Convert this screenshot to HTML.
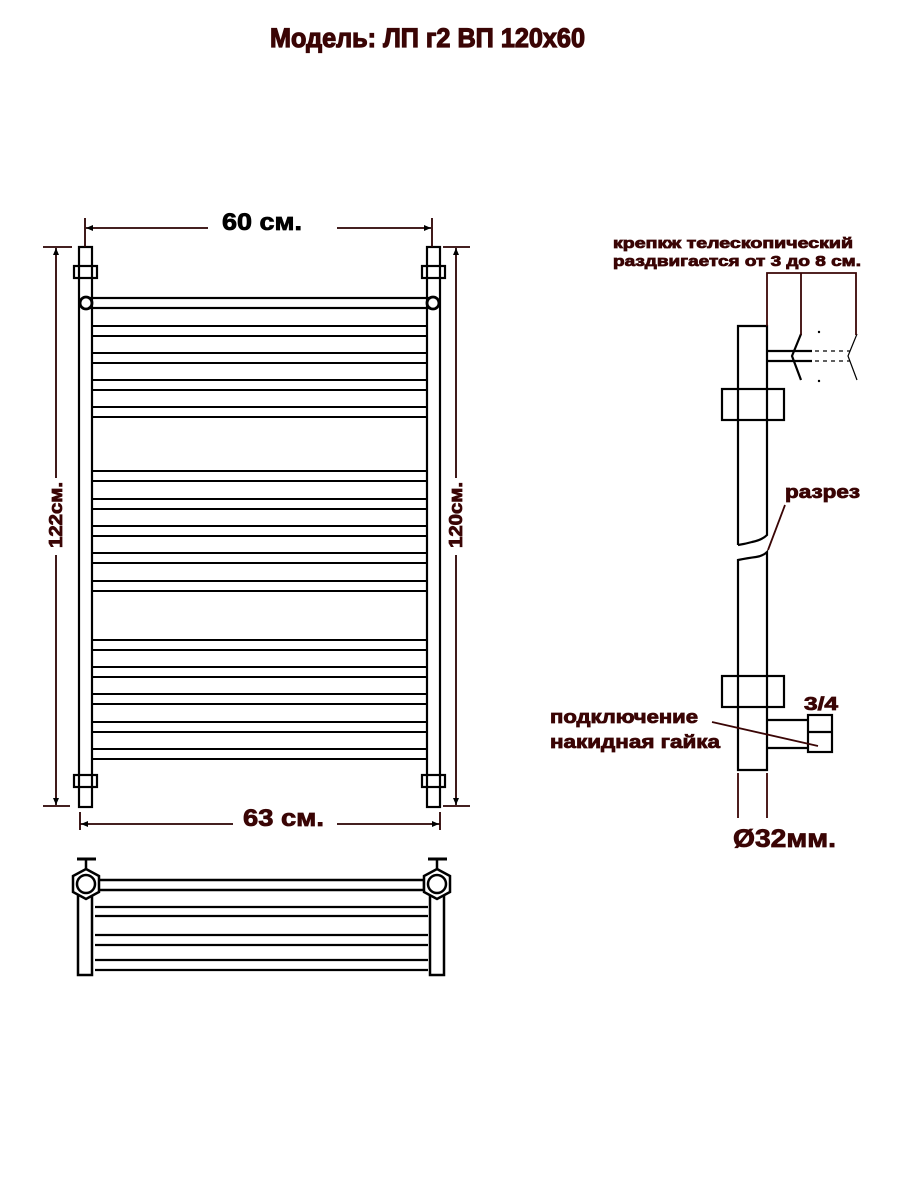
<!DOCTYPE html>
<html><head><meta charset="utf-8"><style>
html,body{margin:0;padding:0;background:#fff;}
svg{display:block;}
.t{font-family:"Liberation Sans",sans-serif;font-weight:bold;fill:#3a0505;stroke:#3a0505;stroke-width:0.8;}
</style></head><body>
<svg width="900" height="1200" viewBox="0 0 900 1200" xmlns="http://www.w3.org/2000/svg">
<rect width="900" height="1200" fill="#fff"/>
<text class="t" x="270" y="47" font-size="27" textLength="315" lengthAdjust="spacingAndGlyphs" style="stroke-width:1.2">Модель: ЛП г2 ВП 120х60</text>

<!-- front view -->
<g fill="none" stroke="#000" stroke-width="2.2">
<rect x="79" y="247" width="13" height="560" fill="#fff"/>
<rect x="427" y="247" width="13" height="560" fill="#fff"/>
<rect x="74" y="266" width="23" height="12"/>
<rect x="422" y="266" width="23" height="12"/>
<rect x="74" y="775" width="23" height="12"/>
<rect x="422" y="775" width="23" height="12"/>
<rect x="86" y="298" width="347" height="10"/>
<circle cx="86" cy="303" r="6" fill="#fff" stroke-width="2.8"/>
<circle cx="433" cy="303" r="6" fill="#fff" stroke-width="2.8"/>
<g stroke-width="2">
<rect x="92" y="326" width="335" height="10"/>
<rect x="92" y="353" width="335" height="10"/>
<rect x="92" y="380" width="335" height="10"/>
<rect x="92" y="407" width="335" height="10"/>
<rect x="92" y="471" width="335" height="10"/>
<rect x="92" y="499" width="335" height="10"/>
<rect x="92" y="526" width="335" height="10"/>
<rect x="92" y="553" width="335" height="10"/>
<rect x="92" y="581" width="335" height="10"/>
<rect x="92" y="640" width="335" height="10"/>
<rect x="92" y="667" width="335" height="10"/>
<rect x="92" y="694" width="335" height="10"/>
<rect x="92" y="722" width="335" height="10"/>
<rect x="92" y="749" width="335" height="10"/>
</g>
</g>

<!-- dimensions -->
<g stroke="#2a0000" stroke-width="1.8" fill="none">
<line x1="85" y1="218" x2="85" y2="247"/>
<line x1="432" y1="218" x2="432" y2="247"/>
<line x1="86" y1="228" x2="208" y2="228"/>
<line x1="337" y1="228" x2="431" y2="228"/>
<line x1="43" y1="247" x2="72" y2="247"/>
<line x1="56" y1="248" x2="56" y2="478"/>
<line x1="56" y1="555" x2="56" y2="805"/>
<line x1="43" y1="806" x2="70" y2="806"/>
<line x1="443" y1="247" x2="470" y2="247"/>
<line x1="456" y1="248" x2="456" y2="478"/>
<line x1="456" y1="555" x2="456" y2="805"/>
<line x1="443" y1="806" x2="470" y2="806"/>
<line x1="80" y1="812" x2="80" y2="830"/>
<line x1="440" y1="812" x2="440" y2="830"/>
<line x1="80" y1="824" x2="233" y2="824"/>
<line x1="337" y1="824" x2="440" y2="824"/>
</g>
<g fill="#000">
<path d="M86 228 l7 -3 v6z"/><path d="M431 228 l-7 -3 v6z"/>
<path d="M56 248 l-3 7 h6z"/><path d="M56 805 l-3 -7 h6z"/>
<path d="M456 248 l-3 7 h6z"/><path d="M456 805 l-3 -7 h6z"/>
<path d="M81 824 l7 -3 v6z"/><path d="M439 824 l-7 -3 v6z"/>
</g>
<text class="t" x="222" y="230" font-size="24" textLength="80" lengthAdjust="spacingAndGlyphs" style="fill:#000;stroke:#000">60 см.</text>
<text class="t" x="243" y="826" font-size="24" textLength="81" lengthAdjust="spacingAndGlyphs">63 см.</text>
<text class="t" font-size="18" textLength="66" lengthAdjust="spacingAndGlyphs" transform="translate(62,548) rotate(-90)">122см.</text>
<text class="t" font-size="18" textLength="66" lengthAdjust="spacingAndGlyphs" transform="translate(462,548) rotate(-90)">120см.</text>

<!-- top view -->
<g fill="none" stroke="#000" stroke-width="2.5">
<rect x="78" y="895" width="14" height="80" fill="#fff"/>
<rect x="430" y="895" width="14" height="80" fill="#fff"/>
<rect x="98" y="880" width="326" height="10"/>
<line x1="95" y1="907" x2="428" y2="907" stroke-width="2.2"/>
<line x1="95" y1="916" x2="428" y2="916" stroke-width="2.2"/>
<line x1="95" y1="935" x2="428" y2="935" stroke-width="2.2"/>
<line x1="95" y1="945" x2="428" y2="945" stroke-width="2.2"/>
<line x1="95" y1="960" x2="428" y2="960" stroke-width="2.2"/>
<line x1="95" y1="970" x2="428" y2="970" stroke-width="2.2"/>
<polygon points="86,869 99,876 99,892 86,899 73,892 73,876" fill="#fff"/>
<polygon points="437,869 450,876 450,892 437,899 424,892 424,876" fill="#fff"/>
<circle cx="86" cy="884" r="9"/>
<circle cx="437" cy="884" r="9"/>
<line x1="86" y1="860" x2="86" y2="869"/>
<line x1="437" y1="860" x2="437" y2="869"/>
<line x1="77" y1="859" x2="96" y2="859" stroke-width="3"/>
<line x1="428" y1="859" x2="447" y2="859" stroke-width="3"/>
</g>

<!-- side view -->
<g fill="none" stroke="#000" stroke-width="2.2">
<path d="M738 545 V326 H767 V535 Q762 540 752 542 Q745 544 738 545"/>
<path d="M738 560 Q748 558 756 557 Q763 556 767 552 V770 H738 Z"/>
<rect x="722" y="389" width="62" height="31" fill="none"/>
<rect x="722" y="676" width="62" height="31"/>
<line x1="767" y1="351" x2="812" y2="351"/>
<line x1="767" y1="361" x2="812" y2="361"/>
<line x1="815" y1="351" x2="850" y2="351" stroke-dasharray="4,4" stroke-width="1.2"/>
<line x1="815" y1="361" x2="850" y2="361" stroke-dasharray="4,4" stroke-width="1.2"/>
<path d="M801 334 L792 356 L801 380"/>
<path d="M857 334 L848 356 L857 380" stroke-width="1.2"/>
<line x1="767" y1="720" x2="808" y2="720"/>
<line x1="767" y1="748" x2="808" y2="748"/>
<rect x="808" y="715" width="24" height="37"/>
<line x1="808" y1="732" x2="832" y2="732"/>
</g>
<circle cx="819" cy="332" r="1.2" fill="#000"/><circle cx="819" cy="381" r="1.2" fill="#000"/>
<g stroke="#3a0505" stroke-width="1.8" fill="none">
<path d="M767 326 V273 H856 V335"/>
<line x1="801" y1="273" x2="801" y2="335"/>
<line x1="785" y1="505" x2="768" y2="550"/>
<line x1="712" y1="722" x2="818" y2="746"/>
<line x1="738" y1="773" x2="738" y2="818"/>
<line x1="767" y1="773" x2="767" y2="818"/>
</g>
<text class="t" x="613" y="248" font-size="15" textLength="240" lengthAdjust="spacingAndGlyphs">крепкж телескопический</text>
<text class="t" x="613" y="266" font-size="15" textLength="248" lengthAdjust="spacingAndGlyphs">раздвигается от 3 до 8 см.</text>
<text class="t" x="785" y="498" font-size="18" textLength="75" lengthAdjust="spacingAndGlyphs">разрез</text>
<text class="t" x="804" y="710" font-size="18" textLength="34" lengthAdjust="spacingAndGlyphs">3/4</text>
<text class="t" x="550" y="723" font-size="18" textLength="148" lengthAdjust="spacingAndGlyphs">подключение</text>
<text class="t" x="550" y="748" font-size="18" textLength="170" lengthAdjust="spacingAndGlyphs">накидная гайка</text>
<text class="t" x="733" y="847" font-size="25" textLength="103" lengthAdjust="spacingAndGlyphs">Ø32мм.</text>
</svg>
</body></html>
